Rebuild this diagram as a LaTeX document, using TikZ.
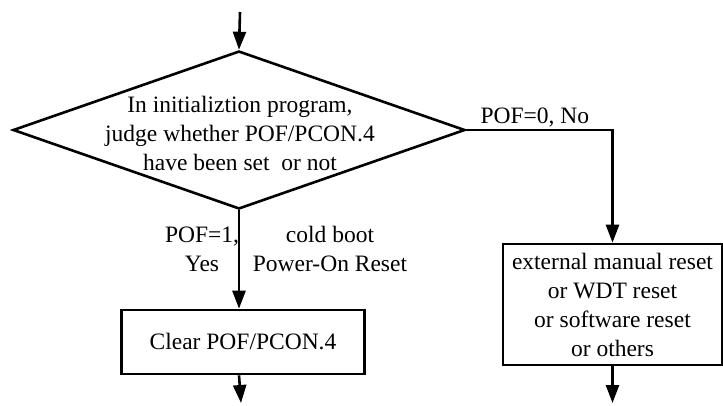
\documentclass[tikz,border=0pt]{standalone}
\usepackage{fontspec}
\setmainfont{Liberation Serif}
\usetikzlibrary{shapes.geometric,arrows.meta}

\begin{document}
\begin{tikzpicture}[x=1pt,y=-1pt,line width=2.6pt,
    font=\fontsize{23.5}{29}\selectfont,
    decision/.style={draw,diamond,inner sep=0pt,minimum width=452pt,minimum height=158pt},
    process/.style={draw,rectangle,inner sep=0pt,align=center},
    flow/.style={-{Triangle[length=18pt,width=13pt]}}]
    \useasboundingbox (0,0) rectangle (723,405);
    % decision
    \coordinate (start) at (240,12);
    \node[decision] (judge) at (239,130) {};
    \node[align=center] (judgetext) at (240,133) {In initializtion program,\\judge whether POF/PCON.4\\have been set \ or not};
    % yes branch
    \node[process,minimum width=243pt,minimum height=64pt] (clearbox) at (243,342) {Clear POF/PCON.4};
    \node[align=center] (yeslabel) at (202,249) {POF=1,\\Yes};
    \node[align=center] (bootlabel) at (330,249) {cold boot\\Power-On Reset};
    \coordinate (clearend) at (241,403);
    % no branch
    \node[process,minimum width=219pt,minimum height=121pt] (resetbox) at (612.5,304.5) {external manual reset\\or WDT reset\\or software reset\\or others};
    \node[anchor=west] (nolabel) at (476,117) {POF=0, No};
    \coordinate (resetend) at (612.5,403);
    \draw[flow] (start) -- (judge.north);
    \draw[flow] (judge.south) -- (judge.south |- clearbox.north);
    \draw[flow] (judge.south |- clearbox.south) -- (clearend);
    \draw[flow] (judge.east) -| (resetbox.north);
    \draw[flow] (resetbox.south) -- (resetend);
  \end{tikzpicture}
\end{document}
